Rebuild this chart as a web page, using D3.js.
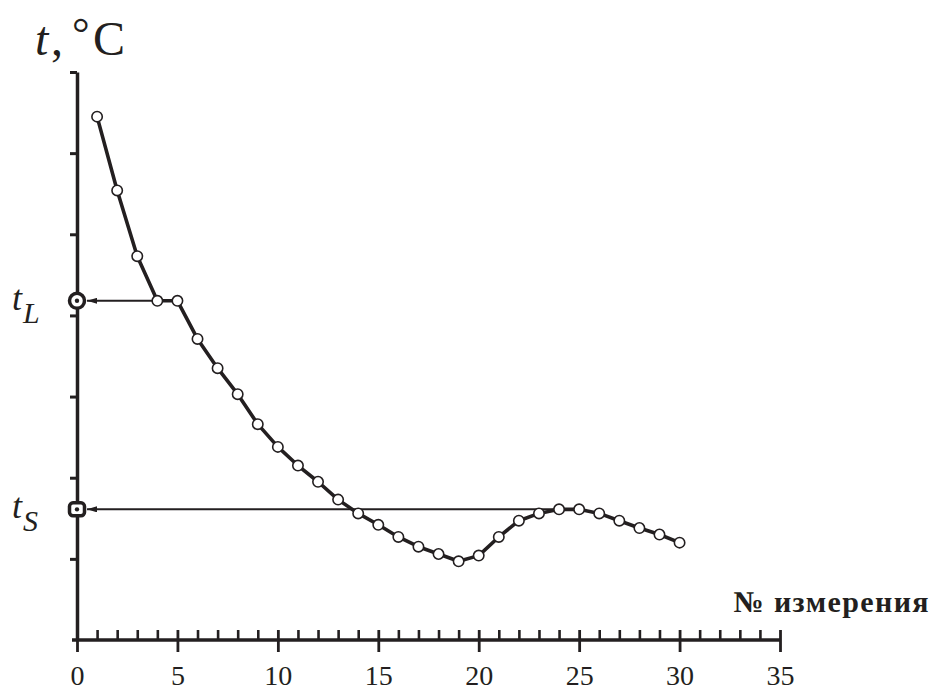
<!DOCTYPE html>
<html>
<head>
<meta charset="utf-8">
<script src="https://cdn.jsdelivr.net/npm/d3@7"></script>
<style>
  html, body { margin: 0; padding: 0; background: #fff; }
  svg { display: block; }
  text { font-family: "Liberation Serif", "Times New Roman", serif; fill: #231f20; }
</style>
</head>
<body>
<svg id="chart" width="937" height="691"></svg>
<script>
// Measurement numbers and the recorded temperatures (relative units, one tick = 1)
const measurements = [1, 2, 3, 4, 5, 6, 7, 8, 9, 10, 11, 12, 13, 14, 15,
                      16, 17, 18, 19, 20, 21, 22, 23, 24, 25, 26, 27, 28, 29, 30];
const temps = [6.45, 5.54, 4.73, 4.18, 4.18, 3.71, 3.35, 3.03, 2.66, 2.38,
               2.15, 1.95, 1.73, 1.56, 1.42, 1.27, 1.15, 1.06, 0.97, 1.04,
               1.27, 1.47, 1.56, 1.61, 1.61, 1.56, 1.47, 1.38, 1.30, 1.20];

// Characteristic temperatures: liquidus and solidus
const markerNames = ["L", "S"];
const markerTemps = [4.18, 1.61];
const markerFrom = [4, 24];       // measurement where each plateau starts
const markerShapes = ["circle", "square"];

const xTickLabels = [0, 5, 10, 15, 20, 25, 30, 35];
const xMinorTicks = d3.range(1, 35).filter(d => d % 5 !== 0);
const yTicks = [1, 2, 3, 4, 5, 6, 7];

const ink = "#231f20";
const serif = '"Liberation Serif", "Times New Roman", serif';
const svg = d3.select("#chart");

const x = d3.scaleLinear().domain([0, 35]).range([77, 780]);
const y = d3.scaleLinear().domain([0, 7]).range([640, 72]);

// ---- axes ----
const axisG = svg.append("g");

// y axis: short ticks to the left, no labels
const yAxis = axisG.append("g")
  .attr("transform", `translate(${x(0)},0)`)
  .call(d3.axisLeft(y).tickValues(yTicks).tickSize(7).tickSizeOuter(0).tickFormat(""));
yAxis.select(".domain").attr("stroke", ink).attr("stroke-width", 3.5);
yAxis.selectAll(".tick line").attr("stroke", ink).attr("stroke-width", 3);

// x axis: minor ticks upward, major ticks crossing the line
const xBase = y(0);
const xMinor = axisG.append("g")
  .attr("transform", `translate(0,${xBase})`)
  .call(d3.axisTop(x).tickValues(xMinorTicks).tickSize(10).tickSizeOuter(0).tickFormat(""));
xMinor.select(".domain").remove();
xMinor.selectAll(".tick line").attr("stroke", ink).attr("stroke-width", 2.6);

const xMajor = axisG.append("g")
  .attr("transform", `translate(0,${xBase})`)
  .call(d3.axisBottom(x).tickValues(xTickLabels).tickSize(12).tickSizeOuter(0).tickPadding(13));
xMajor.select(".domain").remove();
xMajor.selectAll(".tick line")
  .attr("y1", d => d === 0 ? 0 : -10)
  .attr("stroke", ink).attr("stroke-width", 2.8);
xMajor.attr("font-family", null).attr("font-size", null);
xMajor.selectAll(".tick text")
  .style("font-family", serif)
  .style("font-size", "28px")
  .attr("fill", ink);

axisG.append("line")
  .attr("x1", x(0) - 5).attr("x2", x(35))
  .attr("y1", xBase).attr("y2", xBase)
  .attr("stroke", ink).attr("stroke-width", 3.5);

// ---- axis titles ----
const yTitle = svg.append("text")
  .attr("y", 55)
  .style("font-family", serif)
  .attr("font-size", 48);
yTitle.append("tspan").attr("x", 35).attr("font-style", "italic").text("t");
yTitle.append("tspan").attr("x", 51).text(",");
yTitle.append("tspan").attr("x", 72).attr("y", 48).attr("font-size", 44).text("°");
yTitle.append("tspan").attr("x", 93).attr("y", 55).text("C");

svg.append("text")
  .attr("x", 930).attr("y", 612)
  .attr("text-anchor", "end")
  .style("font-family", serif)
  .attr("font-size", 30)
  .attr("letter-spacing", 1.4)
  .attr("font-weight", "bold")
  .text("№ измерения");

// ---- marker arrows to the temperature axis ----
const defs = svg.append("defs");
defs.append("marker")
  .attr("id", "arrow")
  .attr("viewBox", "0 0 10 6")
  .attr("refX", 10).attr("refY", 3)
  .attr("markerWidth", 10).attr("markerHeight", 6)
  .attr("markerUnits", "userSpaceOnUse")
  .attr("orient", "auto")
  .append("path")
  .attr("d", "M0,0 L10,3 L0,6 Z")
  .attr("fill", ink);

const markers = markerNames.map((n, i) => ({
  name: n, t: markerTemps[i], from: markerFrom[i], shape: markerShapes[i]
}));

svg.append("g").selectAll("line")
  .data(markers)
  .join("line")
  .attr("x1", d => x(d.from)).attr("y1", d => y(d.t))
  .attr("x2", x(0) + 10).attr("y2", d => y(d.t))
  .attr("stroke", ink).attr("stroke-width", 2)
  .attr("marker-end", "url(#arrow)");

// ---- curve and measurement points ----
const pts = measurements.map((m, i) => ({ m, t: temps[i] }));

svg.append("path")
  .datum(pts)
  .attr("fill", "none")
  .attr("stroke", ink)
  .attr("stroke-width", 3.6)
  .attr("stroke-linejoin", "round")
  .attr("d", d3.line().x(d => x(d.m)).y(d => y(d.t)));

svg.append("g").selectAll("circle")
  .data(pts)
  .join("circle")
  .attr("cx", d => x(d.m)).attr("cy", d => y(d.t))
  .attr("r", 5.2)
  .attr("fill", "#fff")
  .attr("stroke", ink)
  .attr("stroke-width", 1.6);

// ---- marker symbols on the axis and their labels ----
const mg = svg.append("g").selectAll("g")
  .data(markers)
  .join("g")
  .attr("transform", d => `translate(${x(0)},${y(d.t)})`);

mg.filter(d => d.shape === "circle").append("circle")
  .attr("r", 7.5).attr("fill", "#fff").attr("stroke", ink).attr("stroke-width", 3.5);
mg.filter(d => d.shape === "square").append("rect")
  .attr("x", -7.5).attr("y", -6.5).attr("width", 15).attr("height", 13).attr("rx", 3.5)
  .attr("fill", "#fff").attr("stroke", ink).attr("stroke-width", 3.5);
mg.append("circle").attr("r", 2.2).attr("fill", ink);

const labels = svg.append("g").selectAll("text")
  .data(markers)
  .join("text")
  .attr("x", 12)
  .attr("y", d => y(d.t) + 9)
  .style("font-family", serif)
  .attr("font-size", 36)
  .attr("font-style", "italic");
labels.append("tspan").text("t");
labels.append("tspan").attr("dx", 1).attr("dy", 13).attr("font-size", 30).text(d => d.name);
</script>
</body>
</html>
